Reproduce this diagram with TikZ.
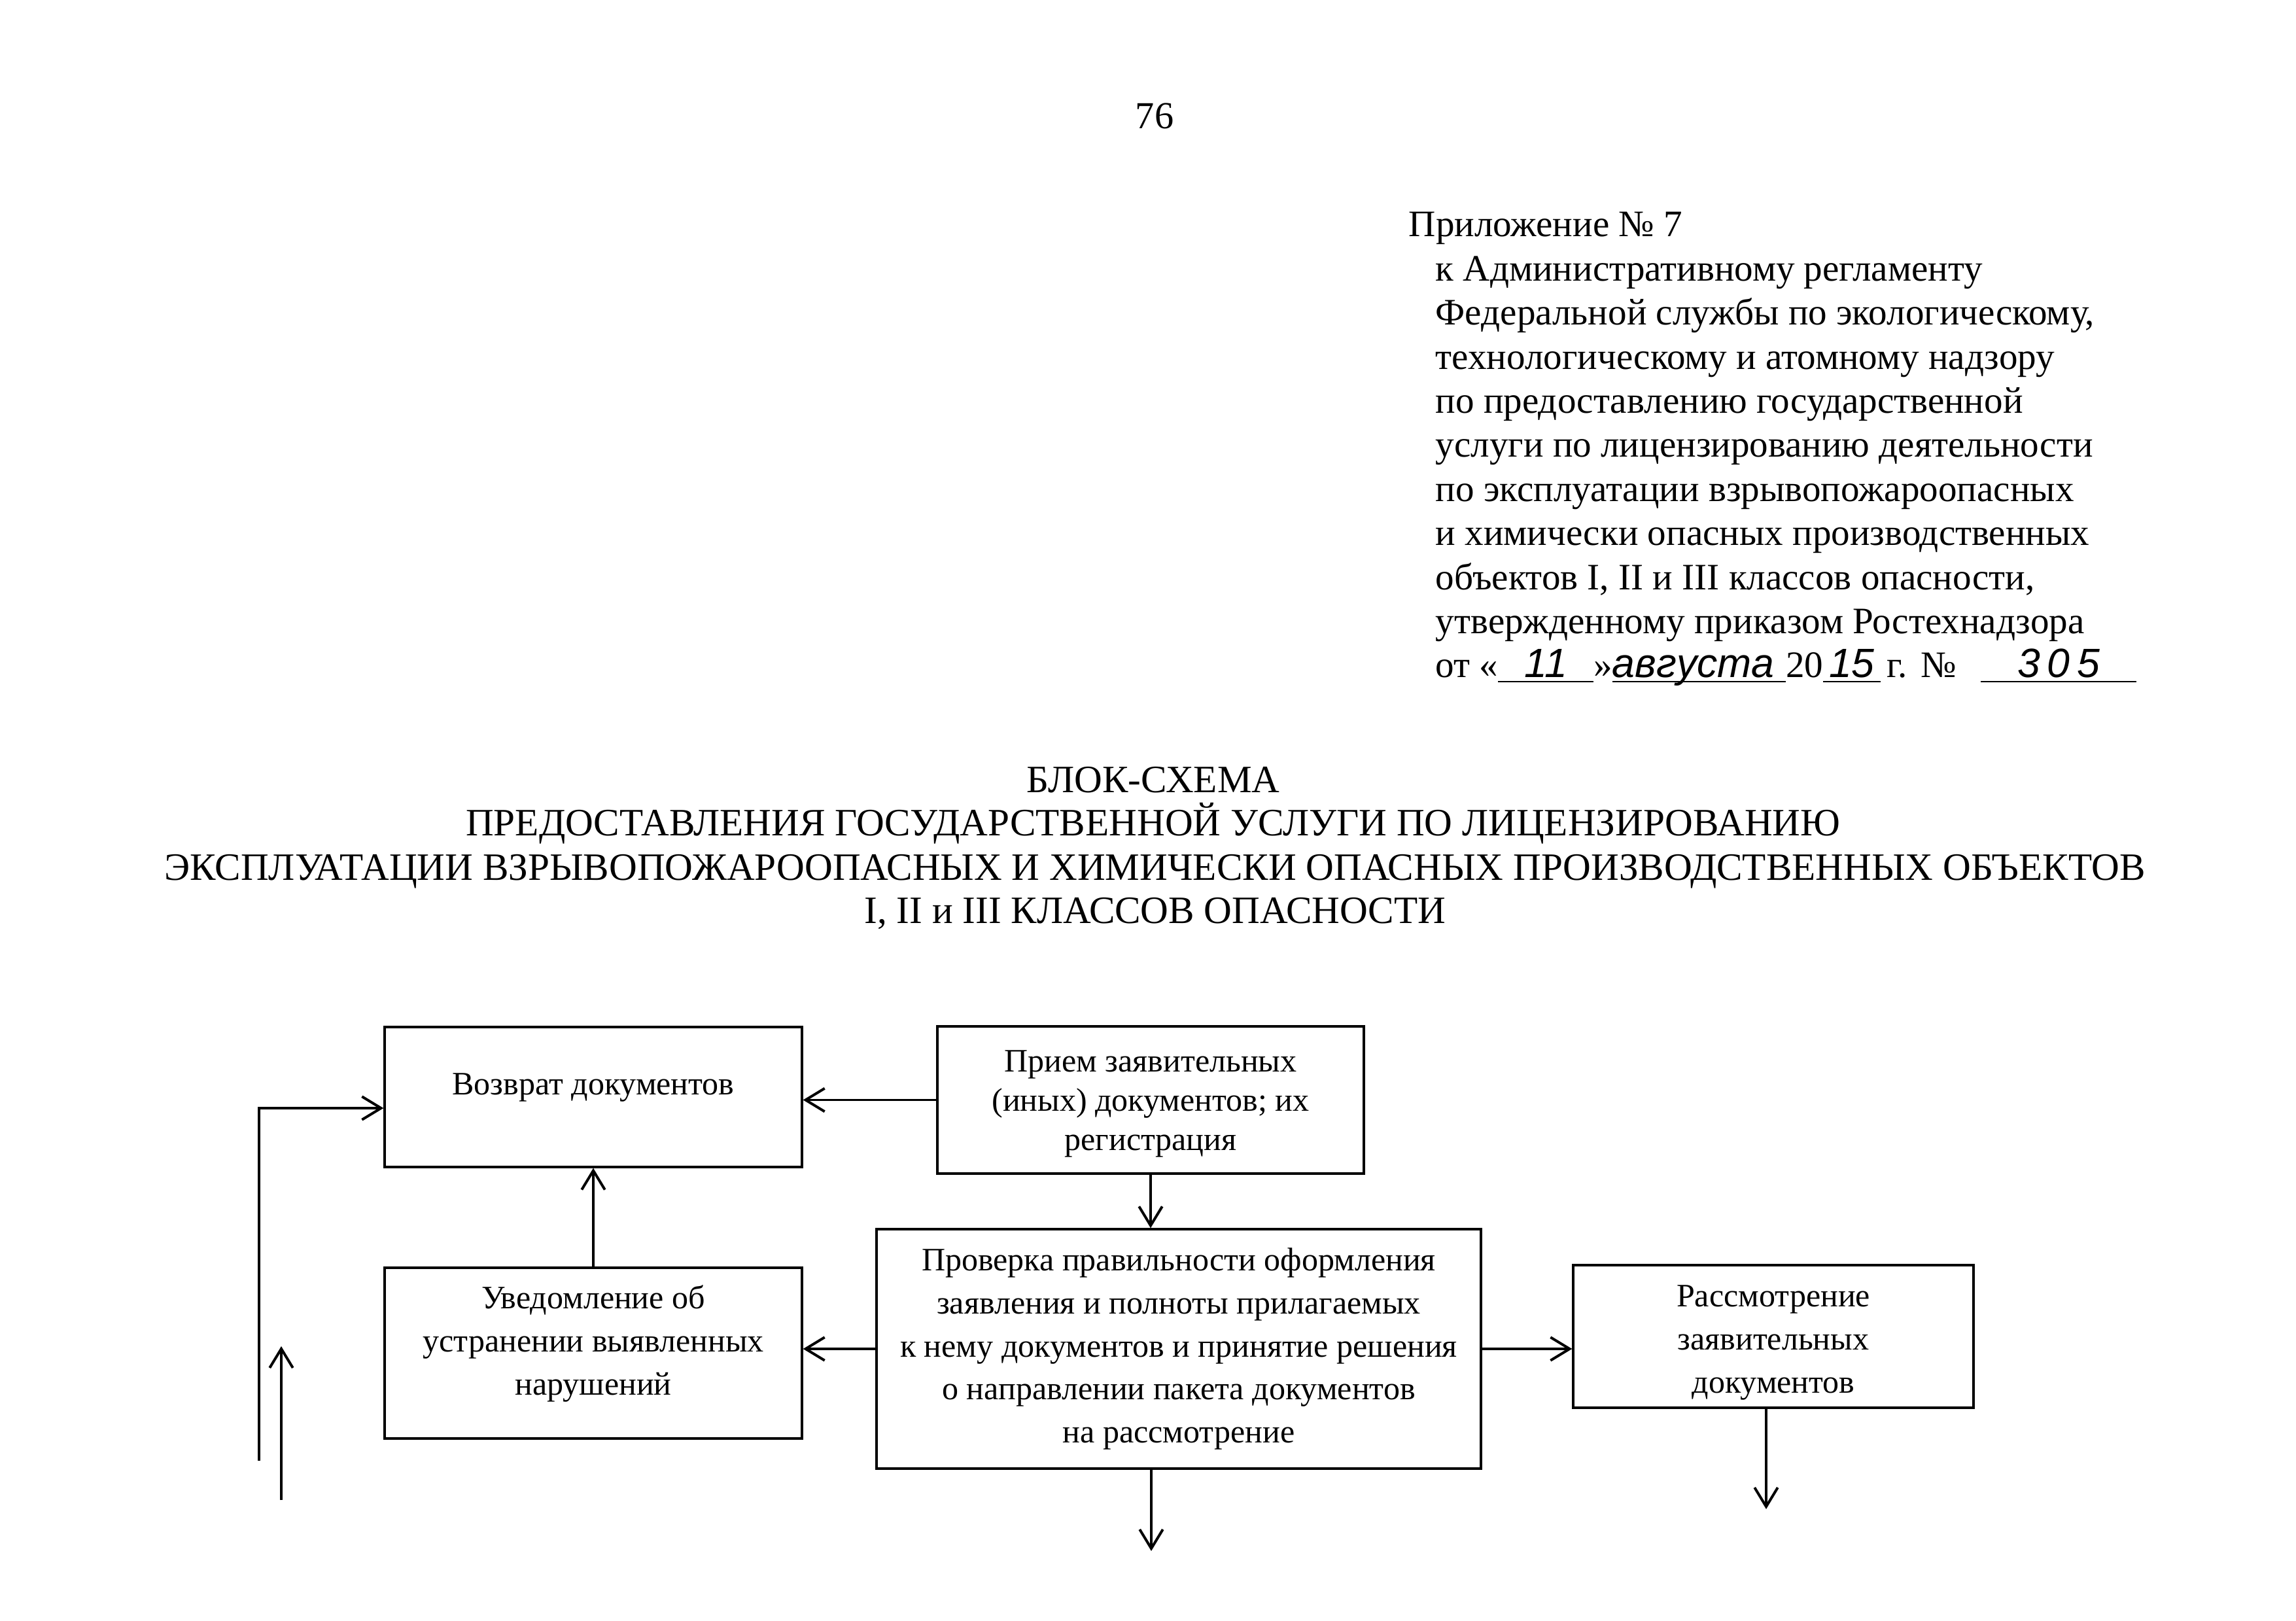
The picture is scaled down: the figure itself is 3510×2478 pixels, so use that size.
\documentclass[tikz,border=0pt]{standalone}
\usepackage{fontspec}
\setmainfont{Liberation Serif}
\newfontfamily\handfont{Liberation Sans}
\usetikzlibrary{arrows.meta,calc,positioning}

\def\pu{0.23986pt}
\newcommand\hand[1]{\smash{\handfont\itshape\fontsize{15}{16}\selectfont #1}}
\tikzset{
  block/.style 2 args={draw, line width=0.8pt, align=center, inner sep=0pt,
    minimum width=#1*\pu, minimum height=#2*\pu,
    font=\fontsize{12}{15.8}\selectfont},
  flow/.style={-{Straight Barb[length=7pt,width=8.5pt]}, line width=0.95pt},
  annex/.style={anchor=base west, inner sep=0pt, font=\fontsize{13.7}{16}\selectfont},
  heading/.style={anchor=base, inner sep=0pt, font=\fontsize{14.2}{16}\selectfont},
}

\begin{document}
\begin{tikzpicture}[x=0.23986pt, y=-0.23986pt]
    \useasboundingbox (0,0) rectangle (3510,2478);

    % page number and annex header
    \node[heading, font=\fontsize{14}{16}\selectfont] (pagenum) at (1765,197) {76};
    \node[annex] (annex0) at (2153,362) {Приложение № 7};
    \foreach \txt [count=\i] in {к Административному регламенту,
        {Федеральной службы по экологическому,},
        технологическому и атомному надзору,
        по предоставлению государственной,
        услуги по лицензированию деятельности,
        по эксплуатации взрывопожароопасных,
        и химически опасных производственных,
        {объектов I, II и III классов опасности,},
        утвержденному приказом Ростехнадзора}
        \node[annex] (annex\i) at (2194,{362+67.4*\i}) {\txt};
    \node[annex] (annexdate) at (2194,1036) {от «\underline{\makebox[35pt]{\hand{11}}}»%
        \underline{\makebox[63.6pt][l]{\hand{августа}}}20%
        \underline{\makebox[21pt]{\hand{15}}}\,г.\hspace{5pt}№\hspace{9pt}%
        \underline{\makebox[57pt]{\hand{3\,0\,5}}}};

    % title
    \node[heading] (title1) at (1763,1212) {БЛОК-СХЕМА};
    \node[heading] (title2) at (1763,1278) {ПРЕДОСТАВЛЕНИЯ ГОСУДАРСТВЕННОЙ УСЛУГИ ПО ЛИЦЕНЗИРОВАНИЮ};
    \node[heading] (title3) at (1766,1346) {ЭКСПЛУАТАЦИИ ВЗРЫВОПОЖАРООПАСНЫХ И ХИМИЧЕСКИ ОПАСНЫХ ПРОИЗВОДСТВЕННЫХ ОБЪЕКТОВ};
    \node[heading] (title4) at (1766,1412) {I, II и III КЛАССОВ ОПАСНОСТИ};

    % blocks
    \node[block={638}{214}, text depth=9.4pt] (vozvrat) at (907,1677) {Возврат документов};
    \node[block={652}{225}, font=\fontsize{12}{14.4}\selectfont, text height=39.6pt, text depth=2.6pt] (priem) at (1759,1681.5) {Прием заявительных\\(иных) документов; их\\регистрация};
    \node[block={924}{366}] (proverka) at (1802,2062) {Проверка правильности оформления\\заявления и полноты прилагаемых\\к нему документов и принятие решения\\о направлении пакета документов\\на рассмотрение};
    \node[block={638}{261}, text height=35.5pt, text depth=5pt] (uved) at (907,2068.5) {Уведомление об\\устранении выявленных\\нарушений};
    \node[block={612}{218}, text height=44.3pt, text depth=3pt] (rassm) at (2711,2043) {Рассмотрение\\заявительных\\документов};

    % free ends
    \coordinate (out1) at (1760,2371);
    \coordinate (out2) at (2700,2307);
    \coordinate (loopstart) at (396,2233);
    \coordinate (loopturn) at (396,1694);
    \coordinate (upfrom) at (430,2293);
    \coordinate (upto) at (430,2058);

    % connectors
    \draw[flow] (priem.west) to (priem.west -| vozvrat.east);
    \draw[flow] (priem.south) to (priem.south |- proverka.north);
    \draw[flow] (uved.north) to (vozvrat.south);
    \draw[flow] (proverka.west) to (proverka.west -| uved.east);
    \draw[flow] (proverka.east) to (proverka.east -| rassm.west);
    \draw[flow] (out1 |- proverka.south) to (out1);
    \draw[flow] (out2 |- rassm.south) to (out2);
    \draw[flow] (loopstart) -- (loopturn) -- (loopturn -| vozvrat.west);
    \draw[flow] (upfrom) to (upto);
\end{tikzpicture}
\end{document}
